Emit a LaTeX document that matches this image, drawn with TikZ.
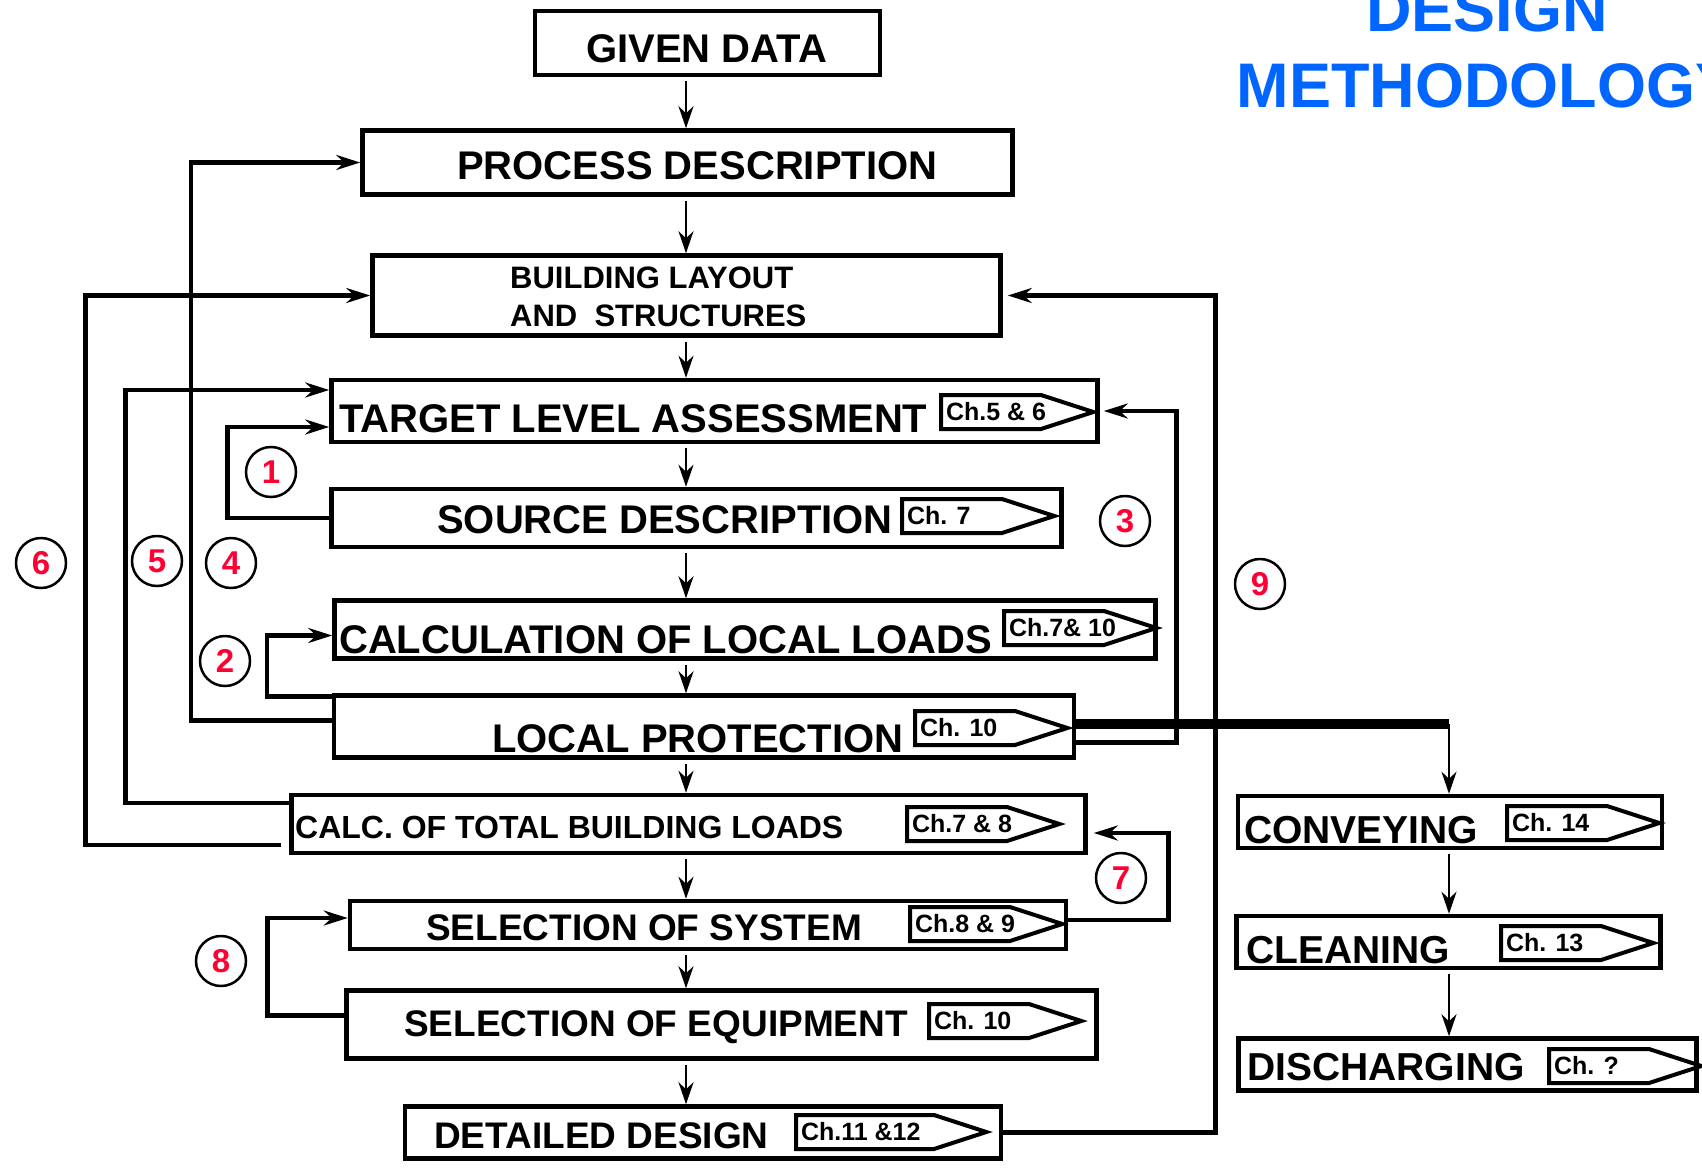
\documentclass[tikz,border=0pt]{standalone}
\usepackage{fontspec}
\setmainfont{Liberation Sans}
\usetikzlibrary{arrows.meta, shapes.symbols}

\definecolor{titleblue}{RGB}{0,102,255}
\definecolor{numred}{RGB}{255,0,51}

\begin{document}
\begin{tikzpicture}[
        x=1pt, y=-1pt,
        box/.style={draw, line width=4.5pt, inner sep=0pt},
        lbl/.style={anchor=base west, inner sep=0pt, font=\bfseries\fontsize{#1}{#1}\selectfont},
        lbl/.default=40,
        chtag/.style={draw, line width=4pt, shape=signal, signal to=east,
                      signal pointer angle=36, minimum height=34pt,
                      inner xsep=5pt, inner ysep=0pt, anchor=west,
                      font=\bfseries\fontsize{25}{25}\selectfont},
        num/.style={circle, draw, line width=2.5pt, minimum size=50pt, inner sep=0pt,
                    text=numred, font=\bfseries\fontsize{33}{33}\selectfont},
        title/.style={anchor=base, inner sep=0pt, text=titleblue,
                      font=\bfseries\fontsize{63}{63}\selectfont},
        flow/.style={-{Stealth[length=22pt, width=15pt, inset=7pt]}, line width=2pt, shorten <=4pt},
        back/.style={-{Stealth[length=24pt, width=15pt, inset=8pt]}, line width=4.5pt},
        bus/.style={line width=10pt}
    ]
        \useasboundingbox (0,0) rectangle (1702,1167);
        \clip (0,0) rectangle (1702,1167);
        \coordinate (spine) at (686,0);
        \coordinate (rspine) at (1449,0);

        % title
        \node[title] (title1) at (1487,31) {DESIGN};
        \node[title] (title2) at (1487,107) {METHODOLOGY};

        % main chain
        \node[box, minimum width=345pt, minimum height=64pt] (given) at (707.5,43) {};
        \node[lbl] (given-t) at (586,62) {GIVEN DATA};
        \node[box, minimum width=650pt, minimum height=64pt] (process) at (687.5,162.5) {};
        \node[lbl] (process-t) at (457,179) {PROCESS DESCRIPTION};
        \node[box, minimum width=628pt, minimum height=80pt] (building) at (686.5,295.5) {};
        \node[lbl=31] (building-t1) at (510,288) {BUILDING LAYOUT};
        \node[lbl=31] (building-t2) at (510,326) {AND\ \ STRUCTURES};
        \node[box, minimum width=766pt, minimum height=62pt] (target) at (714.5,411) {};
        \node[lbl] (target-t) at (339,432) {TARGET LEVEL ASSESSMENT};
        \node[chtag] (target-ch) at (939,412) {\makebox[90pt][l]{Ch.5 \& 6}};
        \node[box, minimum width=730pt, minimum height=58pt] (source) at (696.5,518) {};
        \node[lbl] (source-t) at (437,533) {SOURCE DESCRIPTION};
        \node[chtag] (source-ch) at (900,516) {\makebox[90pt][l]{Ch. 7}};
        \node[box, minimum width=821pt, minimum height=58pt] (calclocal) at (745,629.5) {};
        \node[lbl] (calclocal-t) at (339,653) {CALCULATION OF LOCAL LOADS};
        \node[chtag] (calclocal-ch) at (1002,628) {\makebox[90pt][l]{Ch.7\& 10}};
        \node[box, minimum width=740pt, minimum height=62pt] (localprot) at (704,726.5) {};
        \node[lbl] (localprot-t) at (492,752) {LOCAL PROTECTION};
        \node[chtag] (localprot-ch) at (913,728) {\makebox[90pt][l]{Ch. 10}};
        \node[box, minimum width=794pt, minimum height=58pt] (calctotal) at (688.5,824) {};
        \node[lbl=32] (calctotal-t) at (295,838) {CALC. OF TOTAL BUILDING LOADS};
        \node[chtag] (calctotal-ch) at (905,824) {\makebox[90pt][l]{Ch.7 \& 8}};
        \node[box, minimum width=716pt, minimum height=48pt] (selsys) at (708,925) {};
        \node[lbl=37] (selsys-t) at (426,940) {SELECTION OF SYSTEM};
        \node[chtag] (selsys-ch) at (908,924) {\makebox[90pt][l]{Ch.8 \& 9}};
        \node[box, minimum width=750pt, minimum height=68pt] (selequip) at (721.5,1024.5) {};
        \node[lbl=37] (selequip-t) at (404,1036) {SELECTION OF EQUIPMENT};
        \node[chtag] (selequip-ch) at (927,1021) {\makebox[90pt][l]{Ch. 10}};
        \node[box, minimum width=596pt, minimum height=52pt] (detailed) at (703,1132.5) {};
        \node[lbl=37] (detailed-t) at (434,1148) {DETAILED DESIGN};
        \node[chtag] (detailed-ch) at (794,1132) {\makebox[128pt][l]{Ch.11 \&12}};

        % handling chain
        \node[box, minimum width=424pt, minimum height=52pt] (conveying) at (1450,822) {};
        \node[lbl=39] (conveying-t) at (1244,843) {CONVEYING};
        \node[chtag] (conveying-ch) at (1505,823) {\makebox[90pt][l]{Ch. 14}};
        \node[box, minimum width=424pt, minimum height=52pt] (cleaning) at (1448.5,942) {};
        \node[lbl=39] (cleaning-t) at (1246,963) {CLEANING};
        \node[chtag] (cleaning-ch) at (1499,943) {\makebox[90pt][l]{Ch. 13}};
        \node[box, minimum width=458pt, minimum height=52pt] (discharging) at (1467.5,1064.5) {};
        \node[lbl=39] (discharging-t) at (1247,1080) {DISCHARGING};
        \node[chtag] (discharging-ch) at (1547,1066) {\makebox[90pt][l]{Ch. ?}};

        % loop numbers
        \node[num] (n1) at (271,472) {1};
        \node[num] (n2) at (225,661) {2};
        \node[num] (n3) at (1125,521) {3};
        \node[num] (n4) at (231,563) {4};
        \node[num] (n5) at (157,561) {5};
        \node[num] (n6) at (41,563) {6};
        \node[num] (n7) at (1121,878) {7};
        \node[num] (n8) at (221,961) {8};
        \node[num] (n9) at (1260,584) {9};

        % forward arrows
        \draw[flow] (given.south -| spine) -- (process.north -| spine);
        \draw[flow] (process.south -| spine) -- (building.north -| spine);
        \draw[flow] (building.south -| spine) -- (target.north -| spine);
        \draw[flow] (target.south -| spine) -- (source.north -| spine);
        \draw[flow] (source.south -| spine) -- (calclocal.north -| spine);
        \draw[flow] (calclocal.south -| spine) -- (localprot.north -| spine);
        \draw[flow] (localprot.south -| spine) -- (calctotal.north -| spine);
        \draw[flow] (calctotal.south -| spine) -- (selsys.north -| spine);
        \draw[flow] (selsys.south -| spine) -- (selequip.north -| spine);
        \draw[flow] (selequip.south -| spine) -- (detailed.north -| spine);

        % feedback loops
        \draw[back] (source.west) -- ++(-102,0) |- ([yshift=-16pt]target.west);
        \draw[back] ([yshift=30pt]localprot.west) -- ++(-65,0) |- ([yshift=-6pt]calclocal.west);
        \draw[back] ([yshift=-16pt]localprot.east) -- ++(100,0) |- ([xshift=4pt]target.east);
        \draw[back] ([yshift=6pt]localprot.west) -- ++(-141,0) |- (process.west);
        \draw[back] ([yshift=21pt]calctotal.west) -- ++(-164,0) |- ([yshift=21pt]target.west);
        \draw[back] ([xshift=-8pt,yshift=-21pt]calctotal.west) -- ++(-196,0) |- (building.west);
        \draw[back] ([yshift=5pt]selsys.east) -- ++(100,0) |- ([xshift=6pt,yshift=-9pt]calctotal.east);
        \draw[back] ([yshift=9pt]selequip.west) -- ++(-77,0) |- ([yshift=7pt]selsys.west);
        \draw[back] (detailed.east) -- ++(212,0) |- ([xshift=5pt]building.east);

        % to handling chain
        \coordinate (split) at ([yshift=2.5pt]localprot.east -| rspine);
        \draw[bus] ([yshift=2.5pt]localprot.east) -- (split);
        \draw[flow, line width=2.5pt, shorten <=0pt] (split) -- (conveying.north -| rspine);
        \draw[flow, line width=2.5pt] (conveying.south -| rspine) -- (cleaning.north -| rspine);
        \draw[flow, line width=2.5pt] (cleaning.south -| rspine) -- (discharging.north -| rspine);
    \end{tikzpicture}
\end{document}
